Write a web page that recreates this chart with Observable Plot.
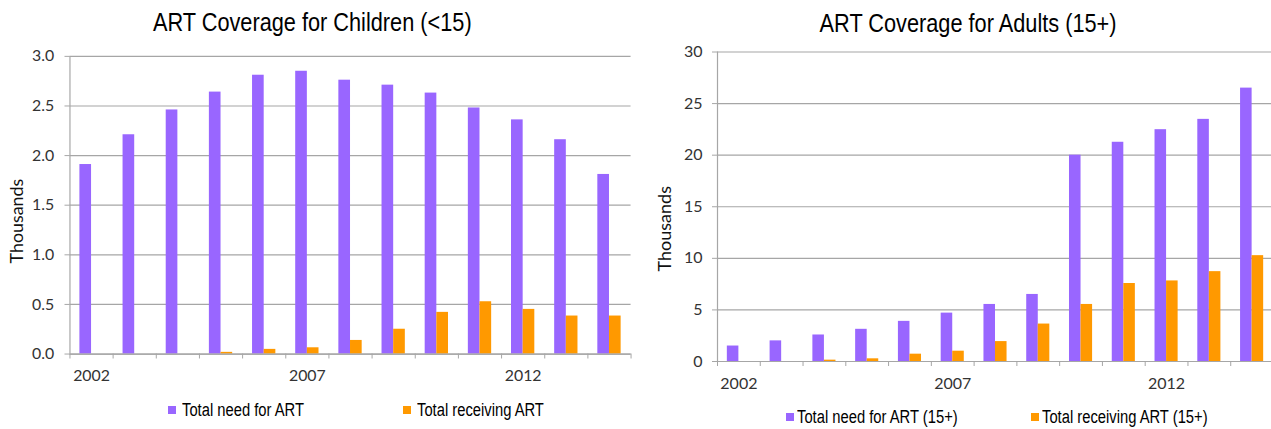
<!DOCTYPE html>
<html>
<head>
<meta charset="utf-8">
<script src="https://cdn.jsdelivr.net/npm/d3@7"></script>
<script src="https://cdn.jsdelivr.net/npm/@observablehq/plot@0.6"></script>
<style>
  html, body { margin: 0; padding: 0; background: #fff; }
  #wrap { position: relative; width: 1271px; height: 429px; overflow: hidden; background: #fff; }
  .panel { position: absolute; top: 0; height: 429px; }
  .title {
    position: absolute; left: 0; text-align: center; white-space: nowrap;
    font-family: "Liberation Sans", Arial, sans-serif;
    font-size: 26.5px; line-height: 26px; color: #000;
  }
  .title span { display: inline-block; transform: scaleX(0.82); transform-origin: center; }
  .chart { position: absolute; left: 0; top: 40px; }
  .legend-item {
    position: absolute; display: flex; align-items: center; white-space: nowrap;
    font-family: "Liberation Sans", Arial, sans-serif;
    font-size: 18px; line-height: 18px; color: #000;
  }
  .legend-item .txt { display: inline-block; transform: scaleX(0.82); transform-origin: left center; }
  .swatch { width: 8px; height: 8px; display: inline-block; }
</style>
</head>
<body>
<div id="wrap">
  <div class="panel" id="children" style="left:0;width:640px"></div>
  <div class="panel" id="adults" style="left:640px;width:640px"></div>
</div>
<script>
// Years on the category axis and the labelled ones
const years = [2002, 2003, 2004, 2005, 2006, 2007, 2008, 2009, 2010, 2011, 2012, 2013, 2014];
const yearLabels = [2002, 2007, 2012];

// Children (<15), thousands
const childNeed = [1.91, 2.21, 2.46, 2.64, 2.81, 2.85, 2.76, 2.71, 2.63, 2.48, 2.36, 2.16, 1.81];
const childReceiving = [0, 0, 0, 0.017, 0.047, 0.063, 0.137, 0.25, 0.42, 0.527, 0.45, 0.383, 0.383];
const childTicks = [0, 0.5, 1.0, 1.5, 2.0, 2.5, 3.0];

// Adults (15+), thousands
const adultNeed = [1.5, 2.0, 2.57, 3.12, 3.89, 4.69, 5.53, 6.5, 20.0, 21.25, 22.47, 23.47, 26.5];
const adultReceiving = [0, 0, 0.13, 0.26, 0.71, 1.0, 1.93, 3.63, 5.53, 7.56, 7.81, 8.71, 10.26];
const adultTicks = [0, 5, 10, 15, 20, 25, 30];

const PURPLE = "#9966FF";
const ORANGE = "#FF9900";
const GRID = "#a6a6a6";
const BAR = 0.27; // bar width in years

function drawPanel(el, cfg) {
  const rows = years.flatMap((year, i) => [
    {year, series: cfg.needLabel, value: cfg.need[i], first: true},
    {year, series: cfg.recvLabel, value: cfg.recv[i], first: false}
  ]);
  const bounds = years.map(y => y - 0.5).concat([years[years.length - 1] + 0.5]);
  const x0 = years[0] - 0.5, x1 = years[years.length - 1] + 0.5;
  const yMax = cfg.ticks[cfg.ticks.length - 1];

  const title = document.createElement("div");
  title.className = "title";
  title.style.top = cfg.titleTop + "px";
  title.style.width = cfg.titleWidth + "px";
  const ts = document.createElement("span");
  ts.textContent = cfg.title;
  title.appendChild(ts);
  el.appendChild(title);

  const chart = Plot.plot({
    width: cfg.width,
    height: 355,
    marginLeft: cfg.marginLeft,
    marginRight: cfg.marginRight,
    marginTop: cfg.marginTop,
    marginBottom: cfg.marginBottom,
    style: {fontFamily: "Lato, 'Open Sans', sans-serif", fontSize: "16px", color: "#333", background: "transparent", overflow: "visible"},
    x: {domain: [x0, x1]},
    y: {domain: [0, yMax]},
    marks: [
      Plot.gridY(cfg.ticks, {stroke: GRID, strokeOpacity: 1, strokeWidth: 1.2}),
      Plot.ruleX([x0], {y1: 0, y2: yMax, stroke: GRID, strokeWidth: 1.2}),
      Plot.rectY(rows, {
        x1: d => d.first ? d.year - BAR : d.year,
        x2: d => d.first ? d.year : d.year + BAR,
        y1: 0,
        y2: "value",
        fill: d => d.first ? PURPLE : ORANGE
      }),
      Plot.ruleY([0], {stroke: GRID, strokeWidth: 1.2}),
      Plot.axisY(cfg.ticks, {tickSize: 5, tickPadding: cfg.yPad, stroke: GRID, fill: "#333", fontSize: 16, tickFormat: cfg.format, label: null}),
      Plot.axisX(bounds, {tickSize: 5, tickFormat: () => "", stroke: GRID, label: null}),
      Plot.axisX(yearLabels, {tickSize: 0, tickPadding: cfg.xPad, tickFormat: d => String(d), fill: "#333", fontSize: 16, label: null}),
      Plot.text(["Thousands"], {frameAnchor: "left", textAnchor: "middle", rotate: -90, dx: cfg.labelDx, dy: cfg.labelDy, fontSize: 18, fill: "#111"})
    ]
  });
  const holder = document.createElement("div");
  holder.className = "chart";
  holder.appendChild(chart);
  el.appendChild(holder);

  [[cfg.needLabel, PURPLE, cfg.legend[0]], [cfg.recvLabel, ORANGE, cfg.legend[1]]].forEach(([label, color, left]) => {
    const item = document.createElement("div");
    item.className = "legend-item";
    item.style.left = left + "px";
    item.style.top = cfg.legendTop + "px";
    const sw = document.createElement("span");
    sw.className = "swatch";
    sw.style.background = color;
    sw.style.marginRight = cfg.swatchGap + "px";
    const tx = document.createElement("span");
    tx.className = "txt";
    tx.textContent = label;
    item.appendChild(sw);
    item.appendChild(tx);
    el.appendChild(item);
  });
}

drawPanel(document.getElementById("children"), {
  title: "ART Coverage for Children (<15)",
  titleTop: 9, titleWidth: 624,
  need: childNeed, recv: childReceiving, ticks: childTicks,
  format: d3.format(".1f"),
  needLabel: "Total need for ART", recvLabel: "Total receiving ART",
  width: 645, marginLeft: 70, marginRight: 9.5, marginTop: 16, marginBottom: 39,
  yPad: 11, xPad: 16, labelDx: -53, labelDy: 16,
  legend: [168, 403], legendTop: 401, swatchGap: 6
});

drawPanel(document.getElementById("adults"), {
  title: "ART Coverage for Adults (15+)",
  titleTop: 10, titleWidth: 656,
  need: adultNeed, recv: adultReceiving, ticks: adultTicks,
  format: d3.format("d"),
  needLabel: "Total need for ART (15+)", recvLabel: "Total receiving ART (15+)",
  width: 640, marginLeft: 77, marginRight: 7, marginTop: 11.5, marginBottom: 34,
  yPad: 10, xPad: 16, labelDx: -52, labelDy: 22,
  legend: [146, 391], legendTop: 408, swatchGap: 3
});
</script>
</body>
</html>
